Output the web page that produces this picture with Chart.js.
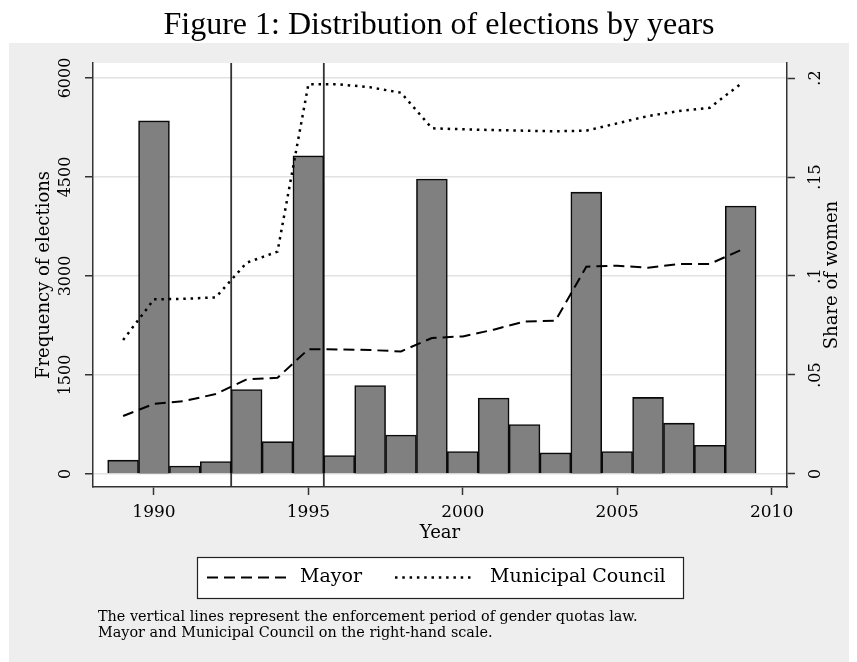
<!DOCTYPE html>
<html>
<head>
<meta charset="utf-8">
<script src="https://cdn.jsdelivr.net/npm/chart.js@4/dist/chart.umd.min.js"></script>
<style>
  html, body { margin: 0; padding: 0; background: #ffffff; }
  #wrap { width: 857px; height: 662px; }
</style>
</head>
<body>
<div id="wrap"><canvas id="c" width="857" height="662"></canvas></div>
<script>
// Election years and number of elections held each year
const years = [1989, 1990, 1991, 1992, 1993, 1994, 1995, 1996, 1997, 1998, 1999,
               2000, 2001, 2002, 2003, 2004, 2005, 2006, 2007, 2008, 2009];
const elections = [210, 5350, 120, 190, 1280, 490, 4820, 280, 1340, 590, 4470,
                   340, 1150, 750, 320, 4270, 340, 1160, 770, 435, 4060];

// Share of women elected (right-hand scale)
const mayorShare = [0.0293, 0.0354, 0.0369, 0.0404, 0.0478, 0.0486, 0.0630, 0.0629, 0.0626, 0.0619, 0.0687,
                    0.0695, 0.0729, 0.0770, 0.0774, 0.1047, 0.1052, 0.1042, 0.1061, 0.1061, 0.1131];
const councilShare = [0.0677, 0.0882, 0.0885, 0.0892, 0.1067, 0.1123, 0.1968, 0.1968, 0.1953, 0.1926, 0.1746,
                      0.1741, 0.1737, 0.1734, 0.1731, 0.1734, 0.1771, 0.1808, 0.1833, 0.1850, 0.1970];

// Start and end of the gender quota enforcement period
const quotaBounds = [1992.5, 1995.5];

// Axis ticks
const yearTicks = [1990, 1995, 2000, 2005, 2010];
const freqTicks = [0, 1500, 3000, 4500, 6000];
const shareTicks = [0, 0.05, 0.1, 0.15, 0.2];
const shareTickLabels = ['0', '.05', '.1', '.15', '.2'];

const noteLines = [
  'The vertical lines represent the enforcement period of gender quotas law.',
  'Mayor and Municipal Council on the right-hand scale.'
];

const SERIF = "'DejaVu Serif', serif";
Chart.defaults.font.family = SERIF;
Chart.defaults.color = '#000';

const AXIS = '#333333';

// Gray graph region with a white plot region
const backdrop = {
  id: 'backdrop',
  beforeDraw(chart) {
    const { ctx, chartArea: a } = chart;
    ctx.save();
    ctx.fillStyle = '#ffffff';
    ctx.fillRect(0, 0, chart.width, chart.height);
    ctx.fillStyle = '#eeeeee';
    ctx.fillRect(9, 43, 840, 619);
    ctx.fillStyle = '#ffffff';
    ctx.fillRect(a.left, a.top, a.right - a.left, a.bottom - a.top);
    ctx.restore();
  }
};

// Vertical lines marking the quota period
const quotaLines = {
  id: 'quotaLines',
  beforeDatasetsDraw(chart) {
    const { ctx, chartArea: a, scales: { x } } = chart;
    ctx.save();
    ctx.strokeStyle = '#333333';
    ctx.lineWidth = 1.8;
    quotaBounds.forEach(v => {
      const px = x.getPixelForValue(v);
      ctx.beginPath();
      ctx.moveTo(px, a.top);
      ctx.lineTo(px, a.bottom);
      ctx.stroke();
    });
    ctx.restore();
  }
};

// Right axis title, legend box and note
const extras = {
  id: 'extras',
  afterDraw(chart) {
    const { ctx, chartArea: a } = chart;
    ctx.save();

    // right axis title, reading upwards
    ctx.font = '18px ' + SERIF;
    ctx.fillStyle = '#000';
    ctx.textAlign = 'center';
    ctx.textBaseline = 'middle';
    ctx.translate(832, (a.top + a.bottom) / 2);
    ctx.rotate(-Math.PI / 2);
    ctx.fillText('Share of women', 0, 0);
    ctx.setTransform(1, 0, 0, 1, 0, 0);

    // legend
    const lx = 197, ly = 557, lw = 486, lh = 41, cy = ly + lh / 2;
    ctx.fillStyle = '#ffffff';
    ctx.fillRect(lx, ly, lw, lh);
    ctx.strokeStyle = '#222';
    ctx.lineWidth = 1.2;
    ctx.strokeRect(lx + 0.5, ly + 0.5, lw, lh);

    const lineSets = chart.data.datasets.filter(d => d.type === 'line');
    const items = [
      { ds: lineSets[0], x0: 207, x1: 288, tx: 300 },
      { ds: lineSets[1], x0: 395, x1: 474, tx: 490 }
    ];
    ctx.font = '19px ' + SERIF;
    ctx.textAlign = 'left';
    items.forEach(it => {
      ctx.save();
      ctx.strokeStyle = it.ds.borderColor;
      ctx.lineWidth = it.ds.borderWidth;
      ctx.setLineDash(it.ds.borderDash);
      ctx.beginPath();
      ctx.moveTo(it.x0, cy);
      ctx.lineTo(it.x1, cy);
      ctx.stroke();
      ctx.restore();
      ctx.fillStyle = '#000';
      ctx.fillText(it.ds.label, it.tx, cy);
    });

    // note
    ctx.font = '14.4px ' + SERIF;
    ctx.fillStyle = '#000';
    ctx.textBaseline = 'middle';
    noteLines.forEach((t, i) => ctx.fillText(t, 98, 617 + i * 16));
    ctx.restore();
  }
};

const tickMarks = { drawTicks: true, tickLength: 8, tickColor: AXIS, tickWidth: 1.5 };

new Chart(document.getElementById('c'), {
  type: 'bar',
  data: {
    datasets: [
      {
        type: 'line',
        label: 'Mayor',
        data: years.map((x, i) => ({ x, y: mayorShare[i] })),
        yAxisID: 'y1',
        borderColor: '#000',
        borderWidth: 2,
        borderDash: [11, 6],
        pointRadius: 0,
        fill: false,
        tension: 0,
        order: 0
      },
      {
        type: 'line',
        label: 'Municipal Council',
        data: years.map((x, i) => ({ x, y: councilShare[i] })),
        yAxisID: 'y1',
        borderColor: '#000',
        borderWidth: 2.5,
        borderDash: [2.5, 4.8],
        pointRadius: 0,
        fill: false,
        tension: 0,
        order: 0
      },
      {
        type: 'bar',
        label: 'Frequency of elections',
        data: years.map((x, i) => ({ x, y: elections[i] })),
        yAxisID: 'y',
        backgroundColor: '#808080',
        borderColor: '#0a0a0a',
        borderWidth: 1.6,
        barPercentage: 1,
        categoryPercentage: 1,
        order: 1
      }
    ]
  },
  options: {
    responsive: false,
    animation: false,
    devicePixelRatio: 1,
    layout: { padding: { left: 21, right: 0, top: 0, bottom: 115 } },
    plugins: {
      legend: { display: false },
      tooltip: { enabled: false },
      title: {
        display: true,
        text: 'Figure 1: Distribution of elections by years',
        color: '#000',
        font: { family: "'Liberation Serif', serif", size: 32, weight: 'normal', lineHeight: 1.2 },
        padding: { top: 6.8, bottom: 17.8 }
      }
    },
    scales: {
      x: {
        type: 'linear',
        min: 1988.025,
        max: 2010.5,
        offset: false,
        grid: { display: true, drawOnChartArea: false, offset: false, ...tickMarks },
        border: { display: true, color: AXIS, width: 1.5 },
        ticks: {
          autoSkip: false, minRotation: 0, maxRotation: 0, padding: 7,
          font: { size: 17 }, color: '#000',
          callback: v => String(v)
        },
        afterBuildTicks: s => { s.ticks = yearTicks.map(v => ({ value: v })); },
        afterFit: s => { s.height = 60; },
        title: { display: true, text: 'Year', color: '#000', font: { size: 18 }, padding: { top: 0, bottom: 3 } }
      },
      y: {
        type: 'linear',
        position: 'left',
        min: -197,
        max: 6227,
        grid: { color: '#e2e2e2', lineWidth: 1.5, ...tickMarks },
        border: { display: true, color: AXIS, width: 1.5 },
        ticks: {
          autoSkip: false, minRotation: 90, maxRotation: 90, crossAlign: 'center', padding: -1,
          font: { size: 16 }, color: '#000',
          callback: v => String(v)
        },
        afterBuildTicks: s => { s.ticks = freqTicks.map(v => ({ value: v })); },
        afterFit: s => { s.width = 72; },
        title: { display: true, text: 'Frequency of elections', color: '#000', font: { size: 18 }, padding: { top: 13, bottom: 0 } }
      },
      y1: {
        type: 'linear',
        position: 'right',
        min: -0.00657,
        max: 0.20758,
        grid: { drawOnChartArea: false, ...tickMarks },
        border: { display: true, color: AXIS, width: 1.5 },
        ticks: {
          autoSkip: false, minRotation: 90, maxRotation: 90, crossAlign: 'center', padding: 8,
          font: { size: 16 }, color: '#000',
          callback: v => shareTickLabels[shareTicks.indexOf(v)]
        },
        afterBuildTicks: s => { s.ticks = shareTicks.map(v => ({ value: v })); },
        afterFit: s => { s.width = 70; }
      }
    }
  },
  plugins: [backdrop, quotaLines, extras]
});
</script>
</body>
</html>
